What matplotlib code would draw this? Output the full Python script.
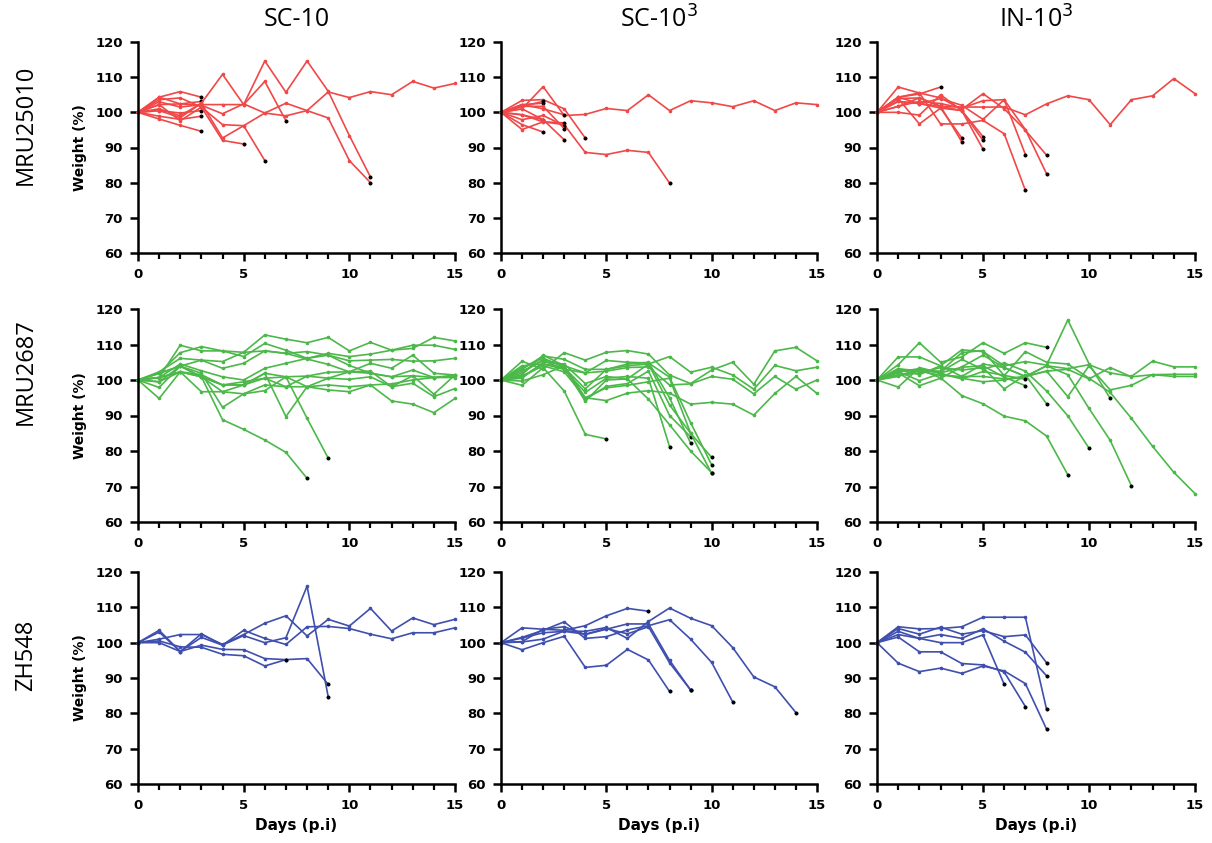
import matplotlib
matplotlib.use('Agg')
from matplotlib import pyplot as plt
from matplotlib.ticker import MultipleLocator

# weight (%) per animal, one value per day starting day 0
# series that stop before day 15 = animal died (black end point)

mru25010_sc10 = [
    [100, 104.3, 105.9, 104.3],
    [100, 103.6, 104.1, 101.5, 96.5, 96.2, 86.3],
    [100, 102.2, 102.4, 103.1],
    [100, 100.5, 99.8, 100.5],
    [100, 98.9, 98.0, 98.9],
    [100, 98.1, 96.3, 94.6],
    [100, 101.0, 99.0, 102.6, 110.8, 102.2, 114.6, 105.7, 114.6, 106.0, 93.4, 81.6],
    [100, 102.2, 97.6, 101.5, 92.0, 91.0],
    [100, 100.5, 98.5, 102.6, 92.7, 96.2, 99.8, 102.6, 100.5, 98.4, 86.3, 80.0],
    [100, 103.0, 101.5, 102.2, 102.2, 102.2, 108.8, 97.6],
    [100, 104.3, 102.4, 102.0, 99.6, 102.4, 99.8, 99.0, 100.5, 105.8, 104.2, 105.9, 105.0, 108.8, 106.9, 108.2],
]

mru25010_sc1000 = [
    [100, 103.4, 103.6, 101.0, 92.7],
    [100, 95.1, 97.3, 96.5, 88.6, 88.0, 89.2, 88.6, 79.9],
    [100, 101.0, 107.3, 99.1, 99.4, 101.1, 100.5, 105.0, 100.5, 103.3, 102.7, 101.6, 103.3, 100.5, 102.7, 102.2],
    [100, 102.2, 102.6],
    [100, 101.7, 103.1],
    [100, 99.3, 97.9],
    [100, 96.5, 94.4],
    [100, 102.2, 101.0, 99.3],
    [100, 99.3, 97.3, 97.0],
    [100, 97.9, 99.1, 96.2],
    [100, 101.7, 101.7, 95.4],
    [100, 101.0, 97.9, 92.2],
]

mru25010_in1000 = [
    [100, 107.2, 105.5, 104.1, 100.8, 105.3, 101.0, 94.9, 87.8],
    [100, 101.7, 104.1, 101.7, 101.5, 101.5, 101.5, 99.3, 102.4, 104.7, 103.6, 96.5, 103.6, 104.7, 109.6, 105.3],
    [100, 104.3, 105.2, 107.2],
    [100, 103.9, 96.7, 101.2, 92.7],
    [100, 103.1, 102.5, 101.7, 91.6],
    [100, 100.0, 99.2, 105.0, 100.5, 93.1],
    [100, 104.3, 105.5, 96.7, 96.7, 97.7, 93.9, 77.8],
    [100, 103.1, 102.5, 101.2, 100.5, 92.0],
    [100, 103.9, 104.1, 101.7, 100.5, 89.5],
    [100, 104.3, 102.5, 103.9, 102.0, 98.0, 103.6, 88.0],
    [100, 101.7, 103.1, 102.5, 101.2, 103.3, 103.6, 95.1, 82.5],
]

mru2687_sc10 = [
    [100, 100.7, 109.8, 108.2, 108.2, 107.8, 112.7, 111.5, 110.5, 112.0, 108.2, 110.6, 108.4, 108.9, 112.0, 111.0],
    [100, 101.9, 107.7, 109.4, 108.2, 106.6, 110.3, 108.4, 106.1, 107.5, 106.6, 107.3, 108.4, 109.8, 109.8, 108.6],
    [100, 102.3, 106.1, 105.6, 103.3, 104.7, 108.2, 107.5, 108.0, 107.0, 105.4, 105.6, 105.8, 105.3, 105.4, 106.1],
    [100, 99.5, 103.9, 105.6, 105.2, 107.8, 108.2, 107.5, 105.9, 104.4, 102.3, 104.7, 103.3, 107.0, 101.9, 101.4],
    [100, 100.7, 104.5, 102.6, 100.9, 100.0, 103.3, 104.7, 106.1, 107.0, 104.1, 101.9, 100.9, 102.8, 100.7, 100.7],
    [100, 101.9, 103.9, 100.9, 98.6, 98.6, 101.9, 100.9, 101.1, 102.2, 102.3, 102.5, 98.1, 101.2, 100.7, 101.4],
    [100, 100.7, 102.3, 100.9, 96.7, 96.1, 98.6, 98.1, 101.1, 100.5, 100.2, 100.9, 98.1, 99.1, 95.3, 97.6],
    [100, 97.9, 103.9, 101.9, 92.3, 96.1, 97.0, 100.9, 98.1, 97.2, 96.7, 98.6, 94.1, 93.2, 90.8, 94.8],
    [100, 94.8, 102.3, 96.7, 96.7, 98.6, 101.9, 89.7, 98.1, 100.5, 102.3, 101.9, 100.9, 101.2, 96.0, 101.4],
    [100, 101.9, 103.9, 100.9, 88.8, 86.1, 83.1, 79.6, 72.3],
    [100, 100.7, 102.3, 100.9, 98.6, 98.6, 100.5, 100.9, 89.2, 78.0],
    [100, 99.5, 102.3, 101.5, 98.6, 99.5, 100.5, 98.1, 98.1, 98.6, 98.1, 98.6, 98.9, 100.0, 100.7, 101.0],
]

mru2687_sc1000 = [
    [100, 105.3, 103.0, 107.7, 105.6, 107.8, 108.3, 107.3, 101.4, 99.0, 102.8, 105.0, 98.8, 108.2, 109.2, 105.4],
    [100, 103.0, 106.8, 105.8, 103.0, 103.0, 104.0, 104.5, 106.6, 102.2, 103.6, 101.4, 97.4, 104.1, 102.6, 103.6],
    [100, 101.0, 104.5, 103.0, 102.0, 102.5, 103.5, 103.7, 98.6, 98.9, 101.0, 100.2, 96.1, 101.0, 97.4, 100.0],
    [100, 99.7, 101.5, 104.0, 95.0, 94.2, 96.3, 97.0, 96.3, 93.2, 93.7, 93.2, 90.1, 96.2, 101.0, 96.2],
    [100, 98.5, 103.5, 96.9, 84.7, 83.4],
    [100, 102.5, 105.5, 103.0, 96.5, 100.5, 101.0, 100.5, 81.2],
    [100, 101.5, 107.0, 104.0, 94.5, 98.2, 99.0, 102.5, 90.0, 84.0],
    [100, 103.5, 106.2, 103.5, 97.5, 103.0, 104.5, 105.0, 95.0, 82.2],
    [100, 100.5, 105.0, 104.5, 99.0, 101.0, 100.3, 94.6, 87.4, 80.0, 73.9],
    [100, 101.0, 104.0, 102.3, 95.0, 97.8, 98.5, 99.5, 100.5, 85.0, 78.2],
    [100, 102.0, 105.8, 104.0, 102.0, 105.5, 105.0, 104.8, 100.8, 88.0, 76.1],
    [100, 104.0, 104.5, 103.5, 94.0, 100.0, 100.3, 104.5, 93.0, 85.0, 73.7],
]

mru2687_in1000 = [
    [100, 103.0, 101.5, 104.0, 101.0, 104.5, 103.5, 101.0, 104.0, 103.2, 104.3, 102.0, 101.0, 105.3, 103.7, 103.7],
    [100, 101.5, 102.5, 101.3, 101.0, 101.0, 100.3, 101.0, 102.5, 103.0, 100.3, 103.5, 100.9, 101.5, 101.6, 101.6],
    [100, 102.4, 99.8, 101.8, 100.5, 99.5, 100.0, 101.0, 102.5, 95.3, 104.0, 97.2, 98.5, 101.5, 101.0, 101.0],
    [100, 101.0, 103.0, 100.6, 95.6, 93.3, 89.8, 88.5, 84.2, 73.3],
    [100, 106.5, 106.5, 104.0, 108.5, 108.0, 104.0, 105.2, 104.2, 116.9, 104.6, 94.8],
    [100, 104.3, 110.5, 105.0, 106.5, 110.5, 107.5, 110.5, 109.2],
    [100, 102.7, 102.6, 102.5, 107.7, 108.3, 101.2, 108.0, 105.0, 104.5, 100.5, 96.5, 89.2, 81.3, 74.0, 68.0],
    [100, 102.0, 98.4, 100.5, 103.7, 107.0, 103.5, 101.0, 104.0, 101.5, 92.0, 83.0, 70.2],
    [100, 103.2, 102.5, 102.3, 105.8, 103.0, 104.8, 102.5, 96.9, 89.9, 80.8],
    [100, 98.0, 103.5, 102.0, 103.6, 104.0, 100.8, 98.4],
    [100, 101.3, 102.0, 103.5, 102.8, 103.5, 97.5, 101.4, 93.3],
    [100, 102.3, 103.2, 101.8, 100.3, 102.4, 101.3, 100.2],
]

zh548_sc10 = [
    [100, 103.5, 97.5, 101.5, 99.3, 103.5, 101.2, 99.5, 104.5, 104.6, 104.0, 102.4, 101.1, 102.8, 102.8, 104.2],
    [100, 101.0, 102.3, 102.3, 99.5, 102.3, 105.5, 107.6, 101.9, 106.6, 104.7, 109.7, 103.3, 107.0, 105.1, 106.6],
    [100, 103.0, 97.5, 102.5, 99.3, 102.0, 100.0, 101.4, 116.0, 84.7],
    [100, 100.5, 98.8, 98.7, 96.7, 96.3, 93.4, 95.2, 95.5, 88.2],
    [100, 100.0, 97.5, 99.3, 98.1, 98.0, 95.5, 95.2],
]

zh548_sc1000 = [
    [100, 104.2, 103.8, 103.5, 104.8, 107.6, 109.7, 108.9],
    [100, 98.0, 100.0, 101.8, 93.0, 93.6, 98.1, 95.1, 86.2],
    [100, 100.3, 103.8, 104.5, 102.3, 103.8, 105.3, 105.3, 95.0, 86.6],
    [100, 101.5, 103.5, 105.9, 101.2, 101.7, 103.6, 104.8, 106.5, 101.0, 94.4, 83.2],
    [100, 100.2, 101.0, 103.3, 103.2, 104.3, 101.2, 106.0, 109.8, 106.9, 104.8, 98.6, 90.3, 87.5, 80.2],
    [100, 101.3, 102.8, 103.2, 102.4, 104.0, 102.5, 104.5, 94.3, 86.6],
]

zh548_in1000 = [
    [100, 104.5, 103.9, 104.0, 104.5, 107.2, 107.2, 107.2, 81.1],
    [100, 104.0, 102.4, 104.4, 102.4, 103.4, 101.7, 102.2, 94.3],
    [100, 103.2, 101.2, 102.3, 101.2, 103.9, 100.4, 97.3, 90.6],
    [100, 102.3, 101.2, 100.0, 100.0, 102.2, 88.2],
    [100, 94.2, 91.8, 92.8, 91.3, 93.4, 92.0, 88.4, 75.5],
    [100, 101.6, 97.4, 97.4, 94.1, 93.7, 91.7, 81.9],
]

strains = ['MRU25010', 'MRU2687', 'ZH548']
routes = ['SC-10', 'SC-10$^3$', 'IN-10$^3$']
colors = ['#f04848', '#4cb84a', '#3f4fae']
panels = [
    [mru25010_sc10, mru25010_sc1000, mru25010_in1000],
    [mru2687_sc10, mru2687_sc1000, mru2687_in1000],
    [zh548_sc10, zh548_sc1000, zh548_in1000],
]

W, H = 1212, 843
fig = plt.figure(figsize=(W / 100, H / 100), dpi=100)

col_x = [(138, 455), (501, 817), (877, 1195)]
row_y = [(42, 253), (309, 522), (572, 784)]
label_y = [125, 372, 655]

for r in range(3):
    for c in range(3):
        x0, x1 = col_x[c]
        y0, y1 = row_y[r]
        ax = fig.add_axes([x0 / W, 1 - y1 / H, (x1 - x0) / W, (y1 - y0) / H])
        for s in panels[r][c]:
            days = list(range(len(s)))
            ax.plot(days, s, color=colors[r], lw=1.2, marker='o', ms=1.6, clip_on=False)
            if len(s) < 16:
                ax.plot(days[-1], s[-1], 'o', color='black', ms=1.8, clip_on=False)
        ax.set_xlim(0, 15)
        ax.set_ylim(60, 120)
        ax.xaxis.set_major_locator(MultipleLocator(5))
        ax.xaxis.set_minor_locator(MultipleLocator(1))
        ax.yaxis.set_major_locator(MultipleLocator(10))
        for side in ['top', 'right']:
            ax.spines[side].set_visible(False)
        for side in ['left', 'bottom']:
            ax.spines[side].set_linewidth(1.8)
        ax.tick_params(which='major', length=6, width=1.8, labelsize=9.5, pad=5)
        ax.tick_params(which='minor', length=4, width=1.6)
        for lab in ax.get_xticklabels() + ax.get_yticklabels():
            lab.set_fontweight('bold')
        if c == 0:
            ax.set_ylabel('Weight (%)', fontsize=10, fontweight='bold', labelpad=6)
        if r == 2:
            ax.set_xlabel('Days (p.i)', fontsize=11, fontweight='bold', labelpad=4)

for c in range(3):
    xc = (col_x[c][0] + col_x[c][1]) / 2
    fig.text(xc / W, 1 - 20 / H, routes[c], ha='center', va='center',
             fontsize=18, family='Open Sans')

for r in range(3):
    fig.text(26 / W, 1 - label_y[r] / H, strains[r], ha='center', va='center',
             rotation=90, fontsize=17, family='Open Sans')

fig.savefig('out.png', dpi=100)
